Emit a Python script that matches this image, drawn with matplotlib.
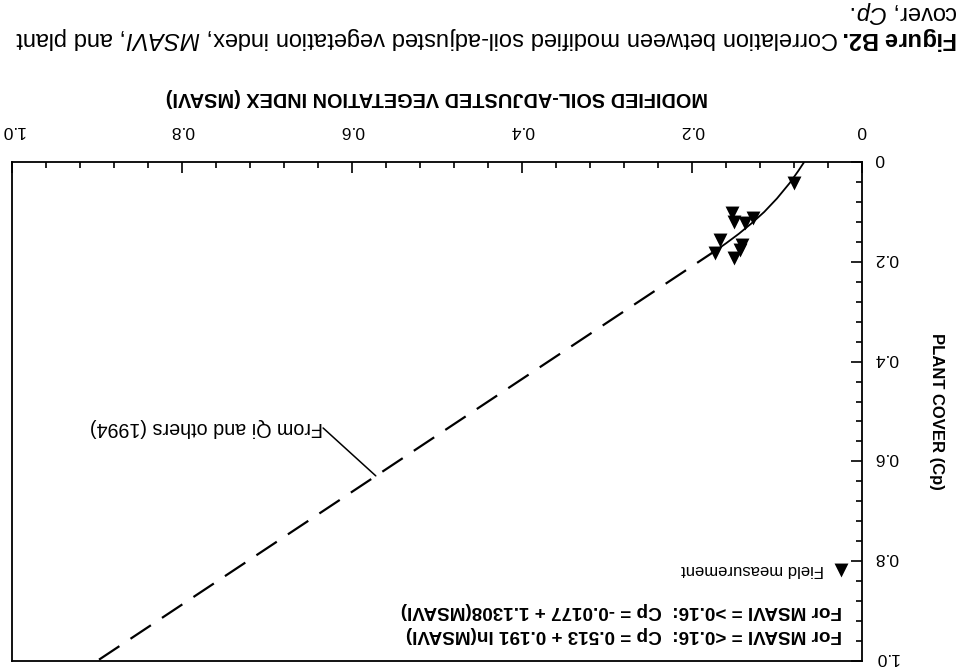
import matplotlib
matplotlib.use("Agg")
import matplotlib.pyplot as plt
import matplotlib.transforms as mtransforms
from matplotlib.ticker import MultipleLocator, FixedLocator, FixedFormatter

plt.rcParams['font.family'] = ['Liberation Sans', 'DejaVu Sans']
plt.rcParams['mathtext.fontset'] = 'custom'
plt.rcParams['mathtext.rm'] = 'Liberation Sans'
plt.rcParams['mathtext.it'] = 'Liberation Sans:italic'
plt.rcParams['mathtext.bf'] = 'Liberation Sans:bold'

# ---------------- data ----------------
# field measurements (MSAVI, plant cover Cp)
field_msavi = [0.080, 0.153, 0.151, 0.138, 0.128, 0.167, 0.173, 0.141, 0.144, 0.151]
field_cp    = [0.042, 0.102, 0.120, 0.122, 0.113, 0.156, 0.183, 0.166, 0.176, 0.193]

# solid fitted curve (MSAVI < 0.16)
curve_msavi = [0.068, 0.075, 0.085, 0.100, 0.115, 0.130, 0.145, 0.160, 0.170]
curve_cp    = [0.000, 0.018, 0.042, 0.073, 0.100, 0.123, 0.144, 0.163, 0.175]

# dashed line from Qi and others (1994), end points
qi_msavi = [0.170, 0.900]
qi_cp    = [0.175, 1.000]

tick_vals   = [0.0, 0.2, 0.4, 0.6, 0.8, 1.0]
tick_labels = ['0', '0.2', '0.4', '0.6', '0.8', '1.0']

xlabel = 'MODIFIED SOIL-ADJUSTED VEGETATION INDEX (MSAVI)'
ylabel = 'PLANT COVER (Cp)'
legend_label = 'Field measurement'
eq_low  = 'For MSAVI = <0.16:  Cp = 0.513 + 0.191 ln(MSAVI)'
eq_high = 'For MSAVI = >0.16:  Cp = -0.0177 + 1.1308(MSAVI)'
annot_text = 'From Qi and others (1994)'
caption1 = (r'$\mathbf{Figure\ B2.}$Correlation between modified soil-adjusted '
            r'vegetation index, $\mathit{MSAVI}$, and plant')
caption2 = r'cover, $\mathit{Cp}$.'

# ---------------- figure (page is upside down) ----------------
W, H = 962, 669
fig = plt.figure(figsize=(W / 100, H / 100), dpi=100)
fig.patch.set_facecolor('white')
ax = fig.add_axes([12 / W, 8 / H, 850 / W, 499 / H])

ax.set_xlim(1.0, 0.0)
ax.set_ylim(1.0, 0.0)

ax.plot(curve_msavi, curve_cp, color='black', lw=1.3, solid_capstyle='butt')
ax.plot(qi_msavi, qi_cp, color='black', lw=1.6, dashes=(11, 6), dash_capstyle='butt')
pts = ax.scatter(field_msavi, field_cp, marker='v', s=100, color='black',
                 linewidths=0, zorder=3, label=legend_label)

# axes / ticks
ax.xaxis.tick_top()
ax.xaxis.set_label_position('top')
ax.yaxis.tick_right()
ax.yaxis.set_label_position('right')
for axis in (ax.xaxis, ax.yaxis):
    axis.set_major_locator(FixedLocator(tick_vals))
    axis.set_major_formatter(FixedFormatter(tick_labels))
    axis.set_minor_locator(MultipleLocator(0.04))
ax.tick_params(which='major', direction='in', length=8, width=1.2,
               labelsize=12.5, labelrotation=180)
ax.tick_params(which='minor', direction='in', length=4, width=1.2)
ax.tick_params(axis='x', which='major', pad=17)
ax.tick_params(axis='y', which='major', pad=9)
for sp in ax.spines.values():
    sp.set_linewidth(1.3)

# y tick labels sit a few pixels above their ticks in the scan
shift_up = mtransforms.ScaledTranslation(0, 5 / 100, fig.dpi_scale_trans)
for lab in ax.yaxis.get_ticklabels():
    lab.set_transform(lab.get_transform() + shift_up)

ax.set_xlabel(xlabel, fontsize=14.3, fontweight='bold', rotation=180, labelpad=15)
ax.set_ylabel(ylabel, fontsize=12, fontweight='bold', rotation=270, labelpad=27,
              va='center')

# legend and equations (upper-left in the original page -> lower-right here)
leg = ax.legend(handles=[pts], loc='center right', bbox_to_anchor=(0.985, 0.183),
                frameon=False, markerfirst=False, handlelength=1.0,
                handletextpad=0.5, borderpad=0, borderaxespad=0,
                fontsize=12, scatterpoints=1)
for t in leg.get_texts():
    t.set_rotation(180)

ax.text(0.976, 0.102, eq_high, transform=ax.transAxes, rotation=180,
        ha='right', va='center', fontsize=13.6, fontweight='bold')
ax.text(0.976, 0.054, eq_low, transform=ax.transAxes, rotation=180,
        ha='right', va='center', fontsize=13.6, fontweight='bold')

# annotation
ax.annotate(annot_text, xy=(0.572, 0.629), xytext=(0.634, 0.533),
            textcoords='data', rotation=180, ha='right', va='center',
            fontsize=14.2,
            arrowprops=dict(arrowstyle='-', lw=1.1, color='black',
                            shrinkA=0, shrinkB=0, relpos=(1.0, 0.5),
                            patchA=None))

# caption
fig.text(0.996, 1 - 38 / H, caption1, rotation=180, ha='right', va='center',
         fontsize=17)
fig.text(0.996, 1 - 12 / H, caption2, rotation=180, ha='right', va='center',
         fontsize=17)

fig.savefig('out.png', dpi=100, facecolor='white')
